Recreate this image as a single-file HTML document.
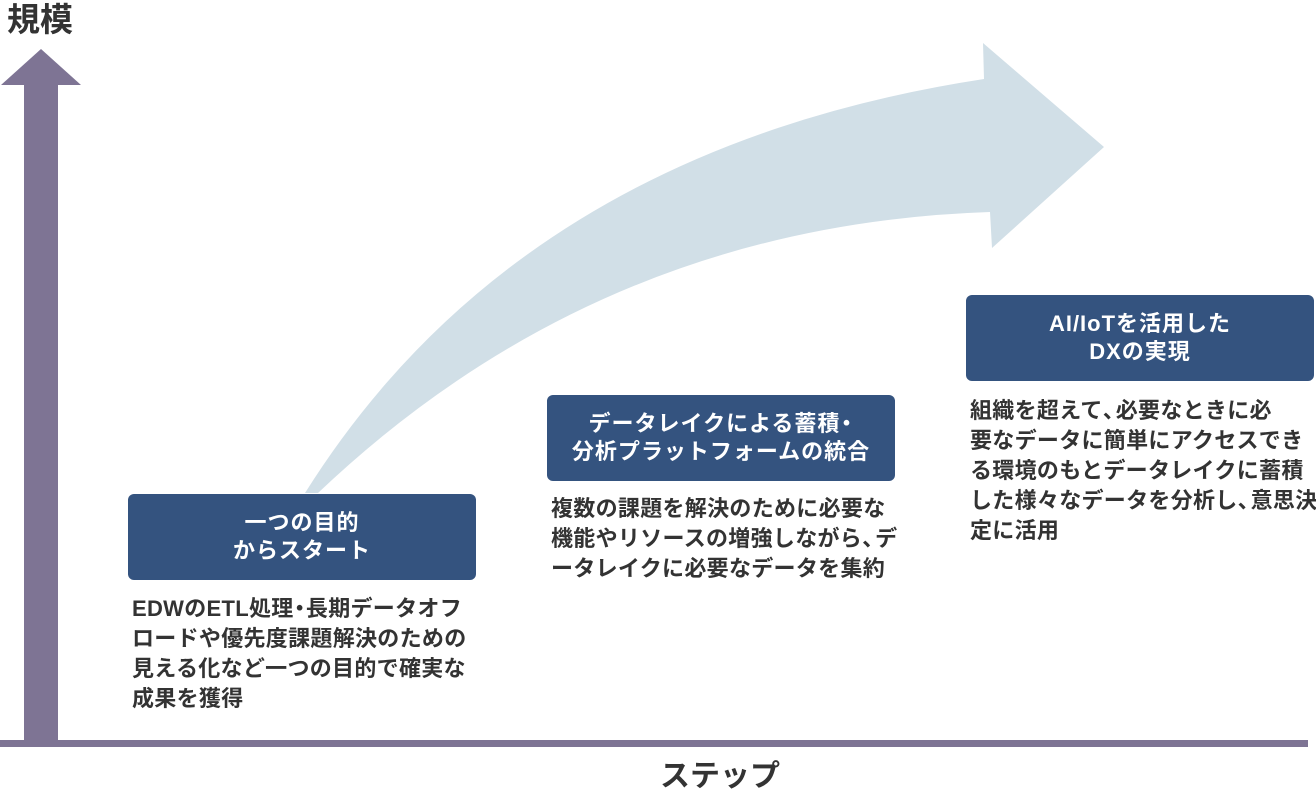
<!DOCTYPE html>
<html><head><meta charset="utf-8"><style>
body{margin:0;width:1316px;height:807px;background:#fff;position:relative;overflow:hidden;font-family:"Liberation Sans","Noto Sans CJK JP",sans-serif;font-weight:bold;color:#333}
.box{position:absolute;width:348px;height:86px;background:#34537f;border-radius:6px;color:#fff;font-size:22px;letter-spacing:1px;line-height:28px;text-align:center;display:flex;flex-direction:column;justify-content:center}
.t{position:absolute;font-size:22px;letter-spacing:0.3px;line-height:30px;color:#333;white-space:nowrap}
.p{letter-spacing:-9px}
.d{margin:0 -5px}
</style></head><body>
<svg width="1316" height="807" style="position:absolute;left:0;top:0">
<path d="M305,493 Q520,150 984,79 L983,43 L1104,147 L992,248 L990,212 Q600,225 318,493 Z" fill="#d1dfe7"/>
<polygon points="1,85 41,49 81,85 58,85 58,747 24,747 24,85" fill="#7e7494"/>
<rect x="0" y="740" width="1308" height="7" fill="#7e7494"/>
</svg>
<div style="position:absolute;left:7px;top:0px;font-size:33px;line-height:40px;color:#333">規模</div>
<div style="position:absolute;left:660px;top:758px;font-size:30px;line-height:38px;color:#333">ステップ</div>
<div class="box" style="left:128px;top:494px"><div>一つの目的</div><div>からスタート</div></div>
<div class="t" style="left:132px;top:594px">EDWのETL処理<span class="d">・</span>長期データオフ<br>ロードや優先度課題解決のための<br>見える化など一つの目的で確実な<br>成果を獲得</div>
<div class="box" style="left:547px;top:395px"><div>データレイクによる蓄積<span class="d">・</span></div><div>分析プラットフォームの統合</div></div>
<div class="t" style="left:551px;top:494px">複数の課題を解決のために必要な<br>機能やリソースの増強しながら<span class="p">、</span>デ<br>ータレイクに必要なデータを集約</div>
<div class="box" style="left:966px;top:295px"><div>AI/IoTを活用した</div><div>DXの実現</div></div>
<div class="t" style="left:970px;top:396px">組織を超えて<span class="p">、</span>必要なときに必<br>要なデータに簡単にアクセスでき<br>る環境のもとデータレイクに蓄積<br>した様々なデータを分析し<span class="p">、</span>意思決<br>定に活用</div>
</body></html>
